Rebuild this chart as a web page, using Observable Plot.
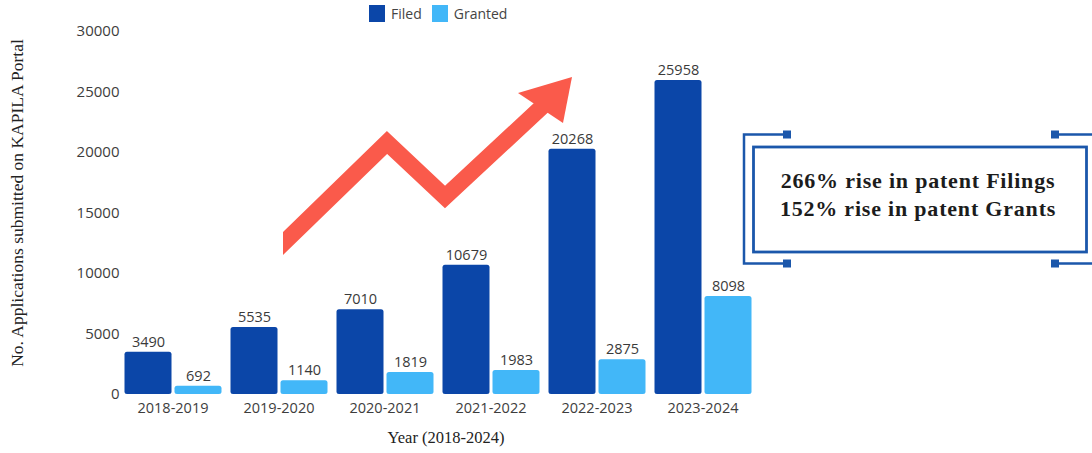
<!DOCTYPE html>
<html>
<head>
<meta charset="utf-8">
<script src="https://cdn.jsdelivr.net/npm/d3@7"></script>
<script src="https://cdn.jsdelivr.net/npm/@observablehq/plot@0.6"></script>
<style>
  html, body { margin: 0; padding: 0; background: #fff; }
  #wrap { position: relative; width: 1092px; height: 453px; overflow: hidden; }
  #legend { position: absolute; left: 369px; top: 4px; display: flex; align-items: center;
            font-family: "Open Sans", sans-serif; font-size: 14px; color: #444; }
  #legend .sw { width: 16px; height: 17px; display: inline-block; margin-right: 6px; }
  #legend .item { display: flex; align-items: center; margin-right: 10px; }
</style>
</head>
<body>
<div id="wrap">
  <div id="chart"></div>
  <div id="legend"></div>
</div>
<script>
const years = ["2018-2019", "2019-2020", "2020-2021", "2021-2022", "2022-2023", "2023-2024"];
const filed = [3490, 5535, 7010, 10679, 20268, 25958];
const granted = [692, 1140, 1819, 1983, 2875, 8098];
const seriesNames = ["Filed", "Granted"];
const seriesColors = ["#0b46a8", "#42b7f8"];
const yTicks = [0, 5000, 10000, 15000, 20000, 25000, 30000];
const yLabel = "No. Applications submitted on KAPILA Portal";
const xLabel = "Year (2018-2024)";
const noteLines = ["266% rise in patent Filings", "152% rise in patent Grants"];

const data = [];
years.forEach((yr, i) => {
  data.push({year: yr, series: "Filed", value: filed[i]});
  data.push({year: yr, series: "Granted", value: granted[i]});
});

const W = 1092, H = 453;
const plot = Plot.plot({
  width: W,
  height: H,
  marginLeft: 118.5,
  marginRight: 334.5,
  marginTop: 31,
  marginBottom: 59,
  style: {fontFamily: "Open Sans, sans-serif", fontSize: "14.5px", color: "#3d3d3d", background: "transparent"},
  fx: {domain: years, paddingInner: 0.084, paddingOuter: 0.042, label: null},
  x: {domain: seriesNames, paddingInner: 0.06, paddingOuter: 0, axis: null},
  y: {domain: [0, 30000], label: null},
  color: {domain: seriesNames, range: seriesColors},
  marks: [
    Plot.axisY({ticks: yTicks, tickSize: 0, tickPadding: 5, label: null, tickFormat: d => String(d), fontSize: 15}),
    Plot.axisFx({anchor: "bottom", tickSize: 0, tickPadding: 8, label: null, fontSize: 14.5}),
    Plot.barY(data, {fx: "year", x: "series", y: "value", fill: "series", rx: 2.5}),
    Plot.text(data, {fx: "year", x: "series", y: "value", text: d => String(d.value), dy: -10, fill: "#3a3a3a", fontSize: 14.5})
  ]
});
document.getElementById("chart").appendChild(plot);

// legend
const legend = d3.select("#legend");
seriesNames.forEach((s, i) => {
  const it = legend.append("div").attr("class", "item");
  it.append("span").attr("class", "sw").style("background", seriesColors[i]);
  it.append("span").text(s);
});

const svg = d3.select(plot);

// axis titles (serif)
svg.append("text")
  .attr("transform", "translate(23,203) rotate(-90)")
  .attr("text-anchor", "middle")
  .attr("font-family", "Liberation Serif, serif")
  .attr("font-size", 17.5)
  .attr("fill", "#222")
  .text(yLabel);
svg.append("text")
  .attr("x", 446).attr("y", 443)
  .attr("text-anchor", "middle")
  .attr("font-family", "Liberation Serif, serif")
  .attr("font-size", 16.5)
  .attr("fill", "#222")
  .text(xLabel);

// decorative red arrow
const defs = svg.append("defs");
defs.append("clipPath").attr("id", "tailclip")
  .append("rect").attr("x", 283).attr("y", 0).attr("width", 400).attr("height", 453);
const arrowG = svg.append("g").attr("clip-path", "url(#tailclip)");
arrowG.append("polyline")
  .attr("points", "270,256 387,142.5 445,197 545,104")
  .attr("fill", "none")
  .attr("stroke", "#fa5a4b")
  .attr("stroke-width", 16.5)
  .attr("stroke-linejoin", "miter");
arrowG.append("polygon")
  .attr("points", "572,77 518,93 563,123")
  .attr("fill", "#fa5a4b");

// annotation box
const blue = "#1b57ab";
const g = svg.append("g");
g.append("path")
  .attr("d", "M787,134.5 H744 V263.5 H787 M1055,134.5 H1100 M1055,263.5 H1100")
  .attr("fill", "none").attr("stroke", blue).attr("stroke-width", 2.5);
[[787, 134.5], [787, 263.5], [1055, 134.5], [1055, 263.5]].forEach(([cx, cy]) => {
  g.append("rect").attr("x", cx - 4).attr("y", cy - 4).attr("width", 8).attr("height", 8).attr("fill", blue);
});
g.append("rect")
  .attr("x", 753.5).attr("y", 147).attr("width", 333).attr("height", 105)
  .attr("fill", "none").attr("stroke", blue).attr("stroke-width", 2.8);
noteLines.forEach((t, i) => {
  g.append("text")
    .attr("x", 918).attr("y", 188 + i * 28)
    .attr("text-anchor", "middle")
    .attr("font-family", "Liberation Serif, serif")
    .attr("font-weight", "bold")
    .attr("font-size", 22)
    .attr("letter-spacing", 0.8)
    .attr("fill", "#1c1c1c")
    .text(t);
});
</script>
</body>
</html>
